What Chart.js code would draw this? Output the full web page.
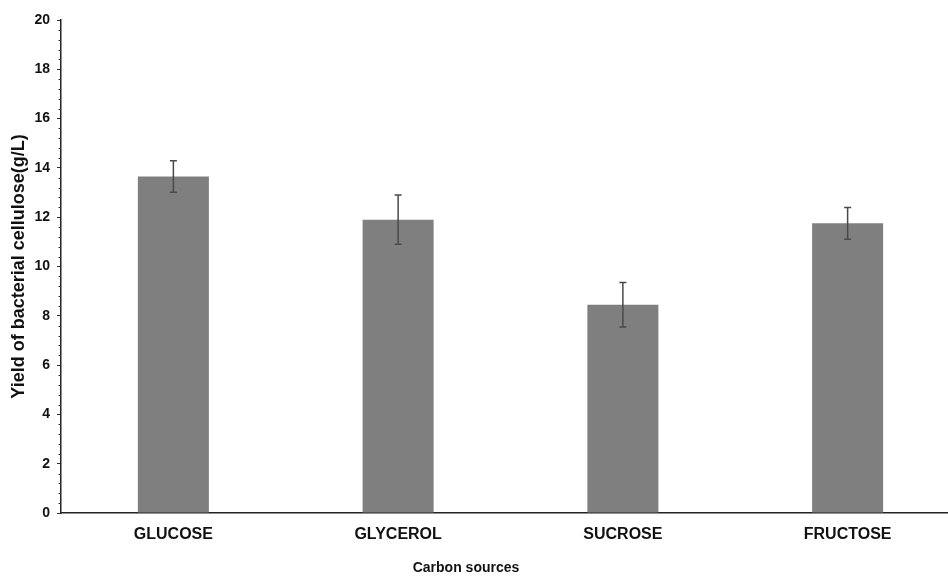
<!DOCTYPE html>
<html>
<head>
<meta charset="utf-8">
<script src="https://cdn.jsdelivr.net/npm/chart.js@4.4.1/dist/chart.umd.min.js"></script>
<style>
    html, body { margin: 0; padding: 0; background: #fff; overflow: hidden; width: 948px; height: 576px; }
    #wrap { width: 962px; height: 576px; }
</style>
</head>
<body>
<div id="wrap"><canvas id="bcChart" width="962" height="576"></canvas></div>
<script>
// Data
const carbonSources = ['GLUCOSE', 'GLYCEROL', 'SUCROSE', 'FRUCTOSE'];
const yieldValues = [13.65, 11.9, 8.45, 11.75];
const yieldErrors = [0.64, 1.0, 0.9, 0.64];
const yTickStep = 2;
const yMinorStep = 0.4;
const xAxisTitle = 'Carbon sources';

const FONT = '"Liberation Sans", Arial, Helvetica, sans-serif';

// Error bars drawn through the y scale
const errorBarPlugin = {
    id: 'errorBars',
    afterDatasetsDraw(chart) {
        const ctx = chart.ctx;
        const yScale = chart.scales.y;
        const meta = chart.getDatasetMeta(0);
        ctx.save();
        ctx.strokeStyle = '#4a4a4a';
        ctx.lineWidth = 1.5;
        meta.data.forEach((bar, i) => {
            const v = yieldValues[i];
            const e = yieldErrors[i];
            const yTop = yScale.getPixelForValue(v + e);
            const yBot = yScale.getPixelForValue(v - e);
            const x = bar.x;
            ctx.beginPath();
            ctx.moveTo(x, yTop);
            ctx.lineTo(x, yBot);
            ctx.moveTo(x - 3.5, yTop);
            ctx.lineTo(x + 3.5, yTop);
            ctx.moveTo(x - 3.5, yBot);
            ctx.lineTo(x + 3.5, yBot);
            ctx.stroke();
        });
        ctx.restore();
    }
};

// Minor ticks on the y axis + x axis title (centred on the visible figure)
const extrasPlugin = {
    id: 'extras',
    afterDraw(chart) {
        const ctx = chart.ctx;
        const yScale = chart.scales.y;
        const x = chart.chartArea.left;
        ctx.save();
        ctx.strokeStyle = '#333';
        ctx.lineWidth = 1;
        for (let v = yScale.min; v <= yScale.max + 1e-6; v += yMinorStep) {
            const r = v / yTickStep;
            if (Math.abs(r - Math.round(r)) < 1e-6) continue;
            const y = Math.round(yScale.getPixelForValue(v)) + 0.5;
            ctx.beginPath();
            ctx.moveTo(x - 2.5, y);
            ctx.lineTo(x, y);
            ctx.stroke();
        }

        ctx.fillStyle = '#111';
        ctx.font = 'bold 14px ' + FONT;
        ctx.textAlign = 'center';
        ctx.textBaseline = 'middle';
        ctx.fillText(xAxisTitle, 466, 568);
        ctx.restore();
    }
};

const ctx = document.getElementById('bcChart').getContext('2d');
new Chart(ctx, {
    type: 'bar',
    data: {
        labels: carbonSources,
        datasets: [{
            label: 'Yield',
            data: yieldValues,
            backgroundColor: '#7f7f7f',
            borderWidth: 0,
            barPercentage: 0.316,
            categoryPercentage: 1.0
        }]
    },
    options: {
        responsive: false,
        animation: false,
        devicePixelRatio: 1,
        layout: {
            padding: { top: 20, right: 2, left: 0, bottom: 0 }
        },
        plugins: {
            legend: { display: false },
            tooltip: { enabled: false }
        },
        scales: {
            x: {
                grid: { display: false, drawTicks: false },
                border: { display: true, color: '#222', width: 1.5 },
                ticks: {
                    color: '#111',
                    padding: 12,
                    font: { family: FONT, size: 16, weight: 'bold' }
                },
                afterFit(scale) { scale.height = 63; }
            },
            y: {
                min: 0,
                max: 20,
                border: { display: true, color: '#222', width: 1.5 },
                grid: {
                    drawOnChartArea: false,
                    drawTicks: true,
                    tickLength: 4,
                    tickColor: '#333'
                },
                ticks: {
                    stepSize: yTickStep,
                    color: '#111',
                    padding: 7,
                    font: { family: FONT, size: 14, weight: 'bold' }
                },
                title: {
                    display: true,
                    text: 'Yield of bacterial cellulose(g/L)',
                    color: '#111',
                    font: { family: FONT, size: 18, weight: 'bold' },
                    padding: { top: 8, bottom: 0 }
                },
                afterFit(scale) { scale.width = 61; }
            }
        }
    },
    plugins: [errorBarPlugin, extrasPlugin]
});
</script>
</body>
</html>
